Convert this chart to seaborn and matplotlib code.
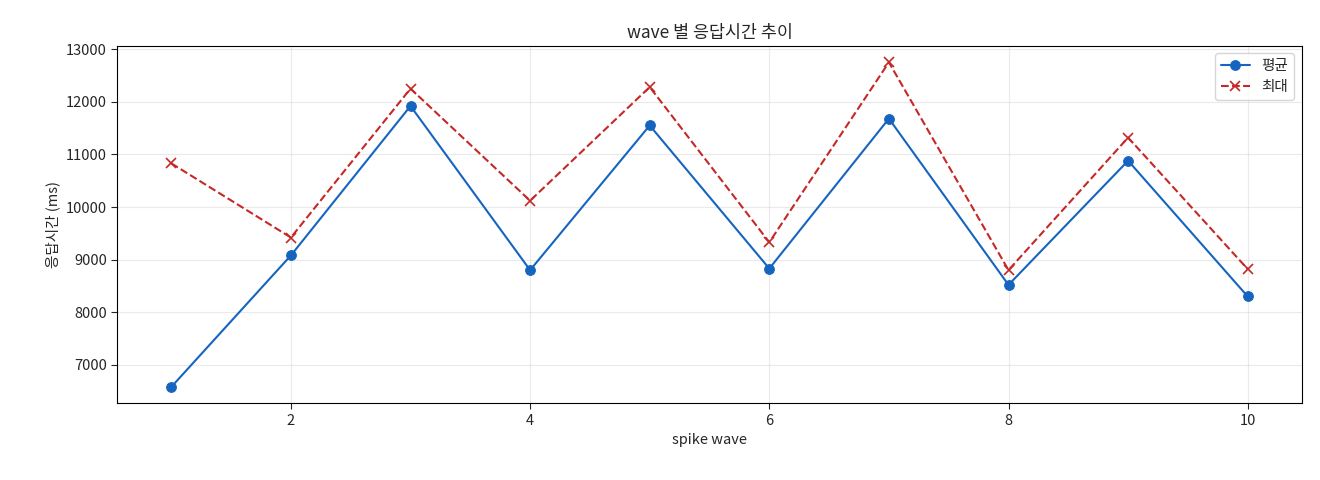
import matplotlib
matplotlib.use("Agg")
import matplotlib.pyplot as plt
import seaborn as sns
import pandas as pd

sns.set_style("white")
plt.rcParams['font.family'] = ['Noto Sans CJK KR', 'DejaVu Sans']
plt.rcParams['axes.unicode_minus'] = False

waves = [1, 2, 3, 4, 5, 6, 7, 8, 9, 10]
avg_ms = [6580, 9080, 11920, 8800, 11550, 8830, 11680, 8520, 10880, 8300]
max_ms = [10830, 9420, 12250, 10120, 12280, 9330, 12750, 8800, 11320, 8820]

df = pd.DataFrame({'wave': waves, 'avg': avg_ms, 'max': max_ms})

fig, ax = plt.subplots(figsize=(13.2, 4.8), dpi=100)
sns.lineplot(data=df, x='wave', y='avg', marker='o', color='#1565c0', label='평균',
             ax=ax, markeredgecolor='#1565c0', markersize=7)
sns.lineplot(data=df, x='wave', y='max', marker='x', color='#c62828', linestyle='--',
             label='최대', ax=ax, markeredgecolor='#c62828', markeredgewidth=1.2, markersize=7)
for s in ax.spines.values():
    s.set_color('black')
    s.set_linewidth(0.8)
ax.tick_params(axis='both', which='both', left=True, bottom=True, length=4, labelsize=10.5)
ax.grid(True, alpha=0.4)
ax.set_title('wave 별 응답시간 추이', fontsize=12.5)
ax.set_xlabel('spike wave', fontsize=10.5)
ax.set_ylabel('응답시간 (ms)', fontsize=10.5)
ax.legend(loc='upper right', fontsize=10.5)
fig.subplots_adjust(left=0.089, right=0.986, top=0.904, bottom=0.16)
fig.savefig('out.png')
